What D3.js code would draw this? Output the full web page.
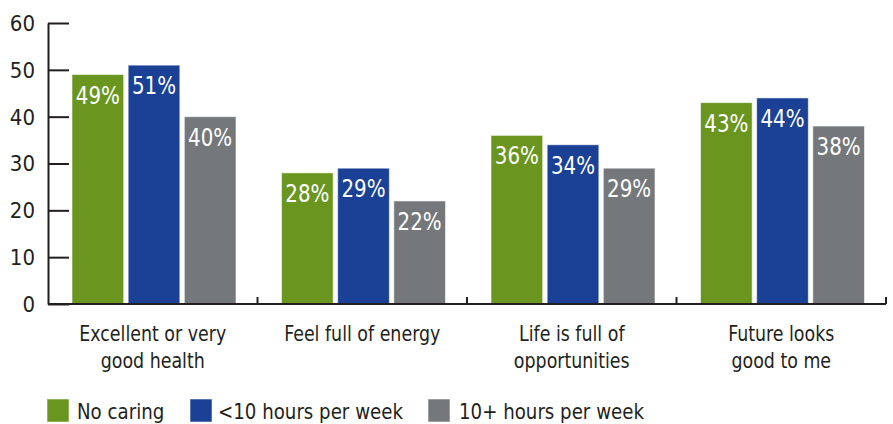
<!DOCTYPE html>
<html>
<head>
<meta charset="utf-8">
<script src="https://cdn.jsdelivr.net/npm/d3@7"></script>
<style>
  html, body { margin: 0; padding: 0; background: #fff; }
  svg { display: block; }
  text { font-family: "DejaVu Sans Condensed", "Open Sans", sans-serif; }
</style>
</head>
<body>
<svg id="chart" width="893" height="424"></svg>
<script>
const categories = [
  ["Excellent or very", "good health"],
  ["Feel full of energy"],
  ["Life is full of", "opportunities"],
  ["Future looks", "good to me"]
];
const seriesNames = ["No caring", "<10 hours per week", "10+ hours per week"];
const seriesColors = ["#6a961f", "#1a4196", "#75787b"];
const noCaring = [49, 28, 36, 43];
const under10 = [51, 29, 34, 44];
const over10 = [40, 22, 29, 38];
const yTicks = [0, 10, 20, 30, 40, 50, 60];

const values = [noCaring, under10, over10];
const svg = d3.select("#chart");
const catKeys = categories.map((c, i) => i);

const x0 = d3.scaleBand().domain(catKeys).range([48, 886]).padding(0);
const x1 = d3.scaleBand().domain(d3.range(seriesNames.length)).range([24, 188]).paddingInner(0.08);
const y = d3.scaleLinear().domain([0, 60]).range([304, 23]);

const ink = "#231f20";
const squeeze = 0.88;

// y axis
const yAxis = d3.axisLeft(y).tickValues(yTicks).tickSize(-21).tickPadding(13).tickSizeOuter(0);
const gy = svg.append("g").attr("transform", "translate(48,0)").call(yAxis);
gy.select(".domain").attr("stroke", ink).attr("stroke-width", 2);
gy.selectAll(".tick line").attr("stroke", ink).attr("stroke-width", 2);
gy.selectAll(".tick text").attr("fill", ink).attr("font-size", 22).attr("x", -13).attr("dy", "0.34em")
  .style("font-family", "'DejaVu Sans Condensed', sans-serif");

// groups
const groups = svg.append("g").selectAll("g").data(catKeys).join("g")
  .attr("transform", d => `translate(${x0(d)},0)`);

groups.selectAll("rect").data(ci => values.map((s, si) => ({ si, v: s[ci] }))).join("rect")
  .attr("x", d => x1(d.si))
  .attr("y", d => y(d.v))
  .attr("width", x1.bandwidth())
  .attr("height", d => y(0) - y(d.v))
  .attr("fill", d => seriesColors[d.si])
  .attr("stroke", "rgba(255,255,255,0.55)")
  .attr("stroke-width", 1);

groups.selectAll("text.val").data(ci => values.map((s, si) => ({ si, v: s[ci] }))).join("text")
  .attr("class", "val")
  .attr("transform", d => `translate(${x1(d.si) + x1.bandwidth() / 2},${y(d.v) + 29}) scale(0.92,1)`)
  .attr("text-anchor", "middle")
  .attr("fill", "#fff")
  .attr("font-size", 24)
  .text(d => d.v + "%");

// x axis
const xAxisLine = svg.append("g");
xAxisLine.append("line").attr("x1", 48).attr("x2", x0.range()[1]).attr("y1", y(0)).attr("y2", y(0))
  .attr("stroke", ink).attr("stroke-width", 2);
const boundaries = catKeys.map(k => x0(k) + x0.bandwidth());
xAxisLine.selectAll("line.tk").data(boundaries).join("line").attr("class", "tk")
  .attr("x1", d => d).attr("x2", d => d).attr("y1", y(0) - 7).attr("y2", y(0))
  .attr("stroke", ink).attr("stroke-width", 2);

// category labels
const catLabels = svg.append("g").selectAll("text").data(catKeys).join("text")
  .attr("transform", d => `translate(${x0(d) + x0.bandwidth() / 2},341) scale(${squeeze},1)`)
  .attr("text-anchor", "middle")
  .attr("fill", ink)
  .attr("font-size", 22);
catLabels.selectAll("tspan").data(d => categories[d]).join("tspan")
  .attr("x", 0)
  .attr("dy", (d, i) => i === 0 ? 0 : 27)
  .text(d => d);

// legend
const legendX = [47, 190, 428];
const leg = svg.append("g").selectAll("g").data(seriesNames).join("g")
  .attr("transform", (d, i) => `translate(${legendX[i]},399)`);
leg.append("rect").attr("width", 22).attr("height", 23).attr("fill", (d, i) => seriesColors[i])
  .attr("stroke", "rgba(255,255,255,0.55)").attr("stroke-width", 1);
leg.append("text").attr("transform", (d, i) => `translate(${[30, 28, 31][i]},20) scale(0.92,1)`)
  .attr("fill", ink).attr("font-size", 22).text(d => d);
</script>
</body>
</html>
